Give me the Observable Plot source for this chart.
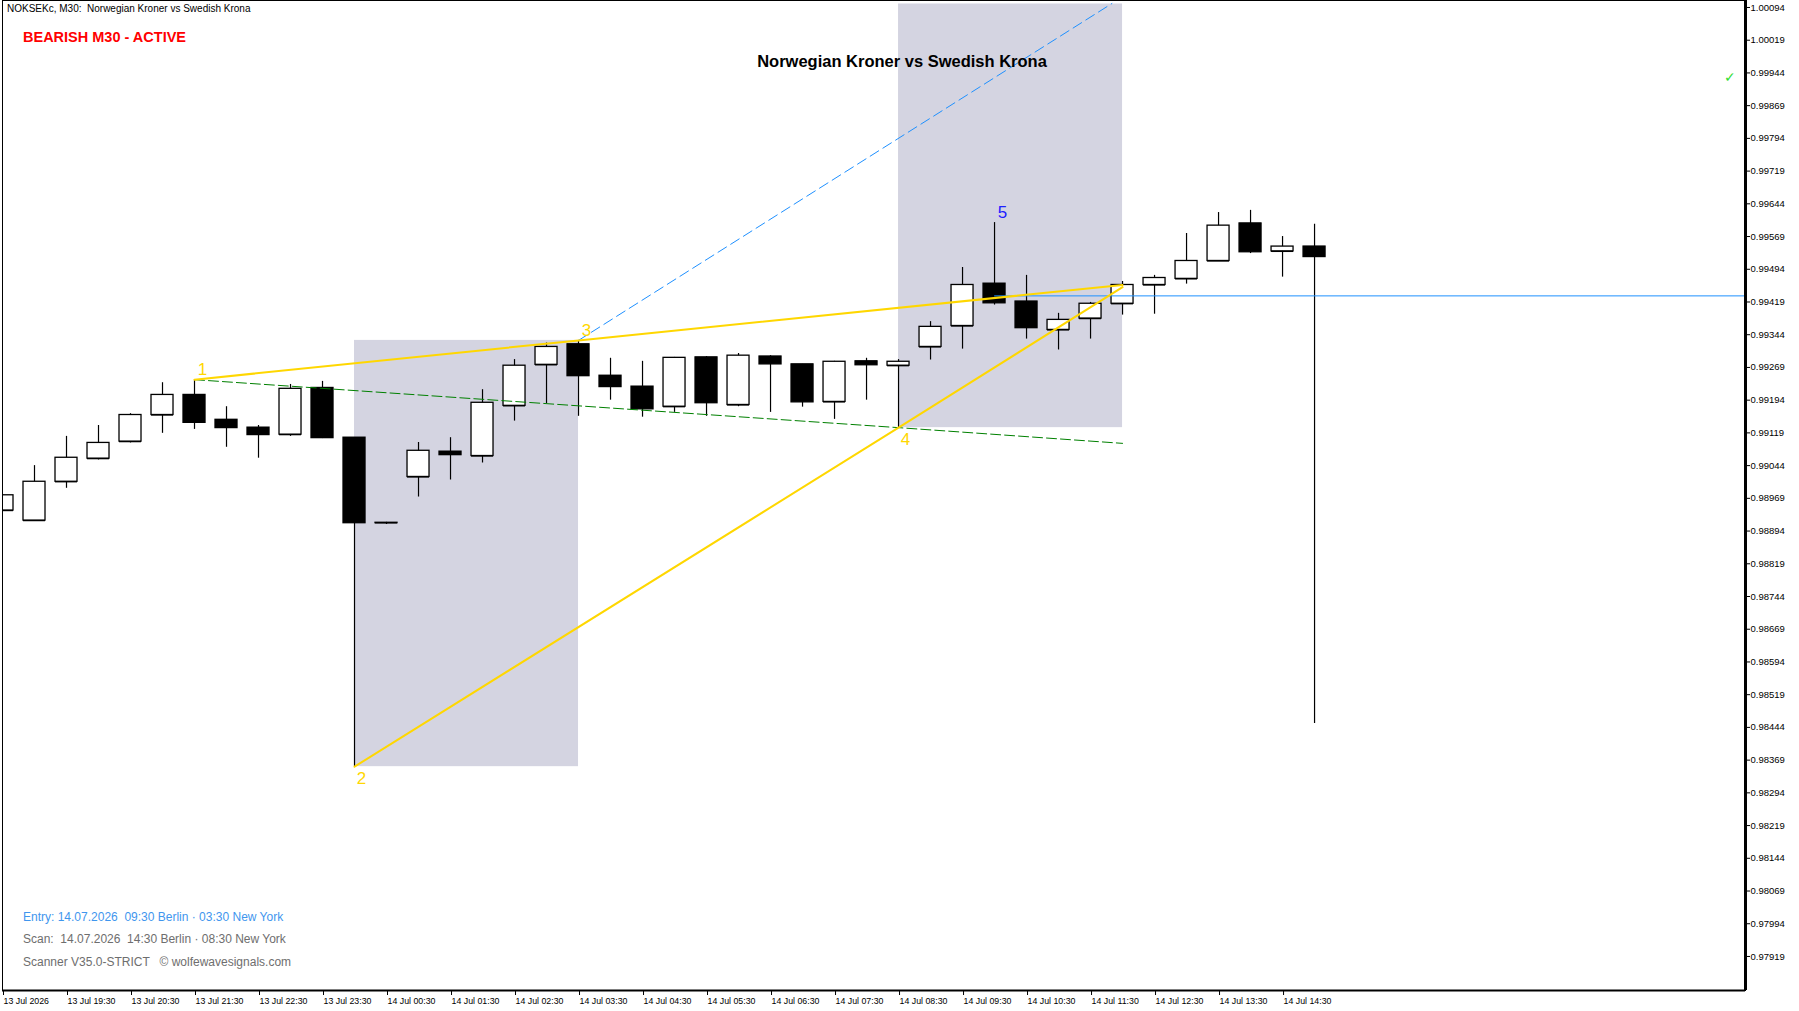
<!DOCTYPE html>
<html>
<head>
<meta charset="utf-8">
<script src="https://cdn.jsdelivr.net/npm/d3@7"></script>
<script src="https://cdn.jsdelivr.net/npm/@observablehq/plot@0.6"></script>
<style>
html,body{margin:0;padding:0;background:#fff;overflow:hidden;}
#wrap{position:relative;width:1799px;height:1011px;overflow:hidden;font-family:"Liberation Sans",Arial,sans-serif;}
#chart{position:absolute;left:0;top:0;}
.t{position:absolute;white-space:pre;line-height:1;}
</style>
</head>
<body>
<div id="wrap">
  <div id="chart"></div>
  <div class="t" style="left:7px;top:4px;font-size:10px;color:#000;">NOKSEKc, M30:  Norwegian Kroner vs Swedish Krona</div>
  <div class="t" style="left:23px;top:30px;font-size:14.5px;font-weight:bold;color:#ff0000;">BEARISH M30 - ACTIVE</div>
  <div class="t" style="left:902px;top:53px;font-size:16.5px;font-weight:bold;color:#000;transform:translateX(-50%);">Norwegian Kroner vs Swedish Krona</div>
  <div class="t" style="left:1724px;top:70px;font-size:14px;color:#33dd33;">✓</div>
  <div class="t" style="left:23px;top:911px;font-size:12px;color:#3f96ee;">Entry: 14.07.2026  09:30 Berlin · 03:30 New York</div>
  <div class="t" style="left:23px;top:933px;font-size:12px;color:#6e6e6e;">Scan:  14.07.2026  14:30 Berlin · 08:30 New York</div>
  <div class="t" style="left:23px;top:956px;font-size:12px;color:#6e6e6e;">Scanner V35.0-STRICT   © wolfewavesignals.com</div>
</div>
<script>
// ---- data ----
const times = [
  "2026-07-13T18:30Z","2026-07-13T19:00Z","2026-07-13T19:30Z","2026-07-13T20:00Z","2026-07-13T20:30Z",
  "2026-07-13T21:00Z","2026-07-13T21:30Z","2026-07-13T22:00Z","2026-07-13T22:30Z","2026-07-13T23:00Z",
  "2026-07-13T23:30Z","2026-07-14T00:00Z","2026-07-14T00:30Z","2026-07-14T01:00Z","2026-07-14T01:30Z",
  "2026-07-14T02:00Z","2026-07-14T02:30Z","2026-07-14T03:00Z","2026-07-14T03:30Z","2026-07-14T04:00Z",
  "2026-07-14T04:30Z","2026-07-14T05:00Z","2026-07-14T05:30Z","2026-07-14T06:00Z","2026-07-14T06:30Z",
  "2026-07-14T07:00Z","2026-07-14T07:30Z","2026-07-14T08:00Z","2026-07-14T08:30Z","2026-07-14T09:00Z",
  "2026-07-14T09:30Z","2026-07-14T10:00Z","2026-07-14T10:30Z","2026-07-14T11:00Z","2026-07-14T11:30Z",
  "2026-07-14T12:00Z","2026-07-14T12:30Z","2026-07-14T13:00Z","2026-07-14T13:30Z","2026-07-14T14:00Z",
  "2026-07-14T14:30Z","2026-07-14T15:00Z"
];
const opens = [
  0.98941,0.98918,0.99007,0.99060,0.99099,0.99160,0.99206,0.99149,0.99131,0.99115,
  0.99222,0.99108,0.98913,0.99018,0.99076,0.99066,0.99181,0.99275,0.99322,0.99250,
  0.99225,0.99179,0.99292,0.99183,0.99294,0.99276,0.99190,0.99283,0.99273,0.99316,
  0.99364,0.99461,0.99420,0.99355,0.99381,0.99415,0.99458,0.99472,0.99513,0.99599,
  0.99535,0.99546
];
const highs = [
  0.98978,0.99044,0.99111,0.99136,0.99163,0.99234,0.99241,0.99179,0.99136,0.99230,
  0.99237,0.99108,0.98914,0.99097,0.99108,0.99218,0.99287,0.99325,0.99331,0.99290,
  0.99283,0.99292,0.99294,0.99301,0.99296,0.99276,0.99283,0.99290,0.99287,0.99374,
  0.99498,0.99601,0.99480,0.99393,0.99418,0.99466,0.99480,0.99576,0.99624,0.99629,
  0.99569,0.99597
];
const lows = [
  0.98939,0.98916,0.98992,0.99057,0.99096,0.99118,0.99127,0.99086,0.99061,0.99111,
  0.99106,0.98354,0.98909,0.98972,0.99011,0.99050,0.99146,0.99186,0.99157,0.99194,
  0.99155,0.99166,0.99157,0.99179,0.99166,0.99178,0.99150,0.99194,0.99131,0.99286,
  0.99311,0.99412,0.99334,0.99309,0.99334,0.99389,0.99391,0.99460,0.99512,0.99530,
  0.99476,0.98453
];
const closes = [
  0.98976,0.99007,0.99062,0.99096,0.99160,0.99206,0.99142,0.99130,0.99114,0.99220,
  0.99107,0.98912,0.98912,0.99078,0.99068,0.99188,0.99273,0.99316,0.99249,0.99224,
  0.99173,0.99291,0.99187,0.99296,0.99276,0.99189,0.99282,0.99274,0.99282,0.99362,
  0.99458,0.99416,0.99359,0.99378,0.99415,0.99458,0.99474,0.99513,0.99594,0.99533,
  0.99546,0.99522
];

// Wolfe wave points
const wolfeLabels = ["1","2","3","4","5"];
const wolfeTimes  = ["2026-07-13T21:30Z","2026-07-14T00:00Z","2026-07-14T03:30Z","2026-07-14T08:30Z","2026-07-14T10:00Z"];
const wolfePrices = [0.99241, 0.98354, 0.99331, 0.99131, 0.99601];
const wolfeColors = ["#FFD700","#FFD700","#FFD700","#FFD700","#2020ff"];
const wolfeAbove  = [true, false, true, false, true];

// line end points
const lineEndTime = "2026-07-14T12:00Z";
const end13Price = 0.99458;   // 1-3 line end
const end24Price = 0.99453;   // 2-4 line end
const end14Price = 0.99095;   // 1-4 (green dashed) end
const projEndTime = "2026-07-14T11:50Z";
const projEndPrice = 1.00103; // blue dashed projection end

// zones
const zoneStart = ["2026-07-14T00:00Z","2026-07-14T08:30Z"];
const zoneEnd   = ["2026-07-14T03:30Z","2026-07-14T12:00Z"];
const zoneLow   = [0.98354, 0.99131];
const zoneHigh  = [0.99331, 1.00102];

// level line
const levelStart = "2026-07-14T10:00Z";
const levelPrice = 0.99433;

// axes
const yTicks = [
  1.00094,1.00019,0.99944,0.99869,0.99794,0.99719,0.99644,0.99569,0.99494,0.99419,
  0.99344,0.99269,0.99194,0.99119,0.99044,0.98969,0.98894,0.98819,0.98744,0.98669,
  0.98594,0.98519,0.98444,0.98369,0.98294,0.98219,0.98144,0.98069,0.97994,0.97919
];
const xTicks = [
  "2026-07-13T18:30Z","2026-07-13T19:30Z","2026-07-13T20:30Z","2026-07-13T21:30Z","2026-07-13T22:30Z",
  "2026-07-13T23:30Z","2026-07-14T00:30Z","2026-07-14T01:30Z","2026-07-14T02:30Z","2026-07-14T03:30Z",
  "2026-07-14T04:30Z","2026-07-14T05:30Z","2026-07-14T06:30Z","2026-07-14T07:30Z","2026-07-14T08:30Z",
  "2026-07-14T09:30Z","2026-07-14T10:30Z","2026-07-14T11:30Z","2026-07-14T12:30Z","2026-07-14T13:30Z",
  "2026-07-14T14:30Z"
];
const xTickLabels = [
  "13 Jul 2026","13 Jul 19:30","13 Jul 20:30","13 Jul 21:30","13 Jul 22:30",
  "13 Jul 23:30","14 Jul 00:30","14 Jul 01:30","14 Jul 02:30","14 Jul 03:30",
  "14 Jul 04:30","14 Jul 05:30","14 Jul 06:30","14 Jul 07:30","14 Jul 08:30",
  "14 Jul 09:30","14 Jul 10:30","14 Jul 11:30","14 Jul 12:30","14 Jul 13:30",
  "14 Jul 14:30"
];
const xDomain = ["2026-07-13T18:30Z","2026-07-14T21:44Z"];
const yDomain = [0.97841, 1.00110];

// ---- build tables ----
const D = s => new Date(s);
const HALF = 15 * 60 * 1000;
const candles = times.map((s, i) => {
  const t = D(s);
  return {t, x1: new Date(+t - HALF), x2: new Date(+t + HALF),
          open: opens[i], high: highs[i], low: lows[i], close: closes[i],
          lo: Math.min(opens[i], closes[i]), hi: Math.max(opens[i], closes[i])};
});
const bulls = candles.filter(d => d.close > d.open);
const bears = candles.filter(d => d.close <= d.open);
const pts = wolfeLabels.map((l, i) => ({label: l, t: D(wolfeTimes[i]), p: wolfePrices[i], color: wolfeColors[i], above: wolfeAbove[i]}));
const zones = zoneStart.map((s, i) => ({x1: D(s), x2: D(zoneEnd[i]), y1: zoneLow[i], y2: zoneHigh[i]}));
const line13 = [{t: pts[0].t, p: pts[0].p}, {t: pts[2].t, p: pts[2].p}, {t: D(lineEndTime), p: end13Price}];
const line24 = [{t: pts[1].t, p: pts[1].p}, {t: pts[3].t, p: pts[3].p}, {t: D(lineEndTime), p: end24Price}];
const line14 = [{t: pts[0].t, p: pts[0].p}, {t: pts[3].t, p: pts[3].p}, {t: D(lineEndTime), p: end14Price}];
const proj   = [{t: pts[2].t, p: pts[2].p}, {t: D(projEndTime), p: projEndPrice}];
const level  = [{t: D(levelStart), p: levelPrice}, {t: D(xDomain[1]), p: levelPrice}];
const xTickDates = xTicks.map(D);
const labelMap = new Map(xTickDates.map((d, i) => [+d, xTickLabels[i]]));

const chart = Plot.plot({
  width: 1799, height: 1011,
  marginLeft: 2, marginRight: 54, marginTop: 0, marginBottom: 21,
  style: {background: "white", fontFamily: "'Liberation Sans', Arial, sans-serif", color: "black"},
  x: {type: "utc", domain: xDomain.map(D), axis: null},
  y: {domain: yDomain, axis: null},
  marks: [
    Plot.rect(zones, {x1: "x1", x2: "x2", y1: "y1", y2: "y2", fill: "#d4d4e1", clip: true}),
    Plot.ruleX(candles, {x: "t", y1: "low", y2: "high", stroke: "black", strokeWidth: 1.2, clip: true}),
    Plot.rect(bulls, {x1: "x1", x2: "x2", y1: "lo", y2: "hi", insetLeft: 5, insetRight: 5, fill: "white", stroke: "black", strokeWidth: 1.3, clip: true}),
    Plot.rect(bears, {x1: "x1", x2: "x2", y1: "lo", y2: "hi", insetLeft: 5, insetRight: 5, fill: "black", stroke: "black", strokeWidth: 1.3, clip: true}),
    Plot.ruleY(candles, {y: "open", x1: "x1", x2: "x2", insetLeft: 5, insetRight: 5, stroke: "black", strokeWidth: 1.3, clip: true}),
    Plot.line(line14, {x: "t", y: "p", stroke: "#008000", strokeWidth: 1, strokeDasharray: "10,4", clip: true}),
    Plot.line(proj, {x: "t", y: "p", stroke: "#1e90ff", strokeWidth: 1, strokeDasharray: "10,5", clip: true}),
    Plot.line(level, {x: "t", y: "p", stroke: "#1e90ff", strokeWidth: 1, clip: true}),
    Plot.line(line13, {x: "t", y: "p", stroke: "#FFD700", strokeWidth: 2, clip: true}),
    Plot.line(line24, {x: "t", y: "p", stroke: "#FFD700", strokeWidth: 2, clip: true}),
    Plot.text(pts.filter(d => d.above), {x: "t", y: "p", text: "label", fill: "color", dx: 8, dy: -10, fontSize: 17}),
    Plot.text(pts.filter(d => !d.above), {x: "t", y: "p", text: "label", fill: "color", dx: 7, dy: 12, fontSize: 17}),
    Plot.frame({stroke: "black", strokeWidth: 1}),
    Plot.ruleX([D(xDomain[1])], {stroke: "black", strokeWidth: 3}),
    Plot.ruleY([yDomain[0]], {stroke: "black", strokeWidth: 2}),
    Plot.axisY(yTicks, {anchor: "right", tickSize: 4, tickPadding: 1, tickFormat: d3.format(".5f"), fontSize: 9.5, label: null, stroke: "black"}),
    Plot.axisX(xTickDates, {anchor: "bottom", tickSize: 5, tickPadding: 2, tickFormat: d => labelMap.get(+d), textAnchor: "start", dx: 1, fontSize: 8.8, label: null, stroke: "black"})
  ]
});
document.getElementById("chart").appendChild(chart);
</script>
</body>
</html>
